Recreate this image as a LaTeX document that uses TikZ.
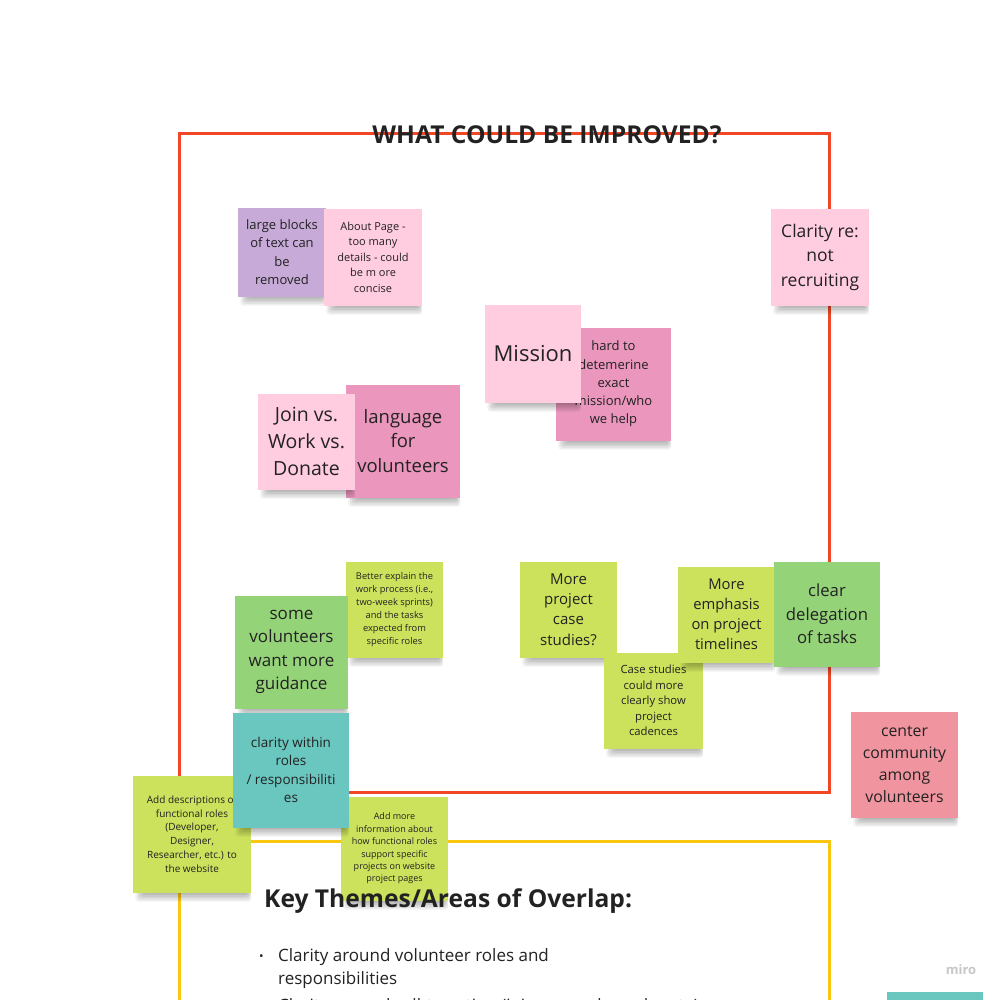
\documentclass[tikz,border=0pt]{standalone}
\usepackage{fontspec}
\setmainfont{Open Sans}
\definecolor{frred}{HTML}{F24726}
\definecolor{fryel}{HTML}{FAC710}
\definecolor{spurple}{HTML}{C8AAD8}
\definecolor{slpink}{HTML}{FFCCE0}
\definecolor{sdpink}{HTML}{EA96BD}
\definecolor{slime}{HTML}{CCE15C}
\definecolor{sgreen}{HTML}{95D378}
\definecolor{steal}{HTML}{6AC7C0}
\definecolor{ssalmon}{HTML}{F0959F}
\definecolor{txt}{HTML}{222222}
\tikzset{
  sticky/.style={rectangle, inner sep=0pt, align=center, text=txt},
  frameline/.style={line width=3pt},
  titletext/.style={font=\fontsize{24.6}{30}\selectfont\bfseries, text=txt, inner sep=0pt},
  bodytext/.style={font=\fontsize{17}{23}\selectfont, text=txt, inner sep=0pt, anchor=base west}
}
% name, x1, y1, x2, y2, colour, size, leading, text
\newcommand\stk[9]{%
  \foreach \i in {1,...,6}{\fill[black,opacity=0.055,rounded corners=3pt] ({#2+12-\i*1.6},{#5-8}) rectangle ({#4-4+\i*0.7},{#5+1+\i*1.6});}
  \node[sticky, fill=#6, minimum width={#4-#2}, minimum height={#5-#3}, font=\fontsize{#7}{#8}\selectfont] (#1) at ({(#2+#4)/2},{(#3+#5)/2+1.5}) {#9};
}
\begin{document}
\begin{tikzpicture}[x=1pt,y=-1pt]
\useasboundingbox (0,0) rectangle (1000,999);
\clip (0,0) rectangle (1000,999);
\fill[white] (0,0) rectangle (1000,999);
% frames
\draw[frameline, frred] (179,133) rectangle (829,792);
\draw[frameline, fryel] (179,841) -- (829,841) -- (829,1100);
\draw[frameline, fryel] (179,841) -- (179,1100);
% stickies
\stk{s1}{238}{206}{326}{295}{spurple}{13}{18.5}{large blocks\\of text can\\be\\removed}
\stk{s2}{324}{207}{422}{304}{slpink}{11}{15.5}{About Page -\\too many\\details - could\\be m ore\\concise}
\stk{s5}{556}{326}{671}{439}{sdpink}{13}{18.3}{hard to\\detemerine\\exact\\mission/who\\we help}
\stk{s4}{485}{303}{581}{401}{slpink}{22}{28}{Mission}
\stk{s7}{346}{383}{460}{496}{sdpink}{18.5}{24.5}{language\\for\\volunteers}
\stk{s6}{258}{392}{355}{488}{slpink}{19.5}{27}{Join vs.\\Work vs.\\Donate}
\stk{s9}{346}{560}{443}{656}{slime}{9.3}{13}{Better explain the\\work process (i.e.,\\two-week sprints)\\and the tasks\\expected from\\specific roles}
\stk{s8}{235}{594}{348}{707}{sgreen}{17}{23.5}{some\\volunteers\\want more\\guidance}
\stk{s11}{133}{774}{251}{891}{slime}{10}{13.8}{Add descriptions of\\functional roles\\(Developer,\\Designer,\\Researcher, etc.) to\\the website}
\stk{s12}{341}{795}{448}{899}{slime}{9}{12.4}{Add more\\information about\\how functional roles\\support specific\\projects on website\\project pages}
\stk{s10}{233}{711}{349}{826}{steal}{13.5}{18.5}{clarity within\\roles\\/ responsibiliti\\es}
\stk{s13}{520}{560}{617}{656}{slime}{15}{20.3}{More\\project\\case\\studies?}
\stk{s14}{604}{651}{703}{747}{slime}{11.3}{15.5}{Case studies\\could more\\clearly show\\project\\cadences}
\stk{s15}{678}{565}{775}{661}{slime}{14.8}{20}{More\\emphasis\\on project\\timelines}
\stk{s16}{774}{560}{880}{665}{sgreen}{16.7}{23.5}{clear\\delegation\\of tasks}
\stk{s17}{851}{710}{958}{816}{ssalmon}{15.8}{22}{center\\community\\among\\volunteers}
\stk{s3}{771}{207}{869}{304}{slpink}{17.5}{24.5}{Clarity re:\\not\\recruiting}
% key themes text (over the stickies)
\node[titletext, anchor=west] (keyt) at (264,901) {Key Themes/Areas of Overlap:};
\node[bodytext, font=\fontsize{12}{14}\selectfont] (b1) at (259,960) {•};
\node[bodytext] (l1) at (278,961) {Clarity around volunteer roles and};
\node[bodytext] (l2) at (278,984) {responsibilities};
\node[bodytext, font=\fontsize{12}{14}\selectfont] (b2) at (259,1008) {•};
\node[bodytext] (l3) at (278,1011) {Clarity around call-to-action (join vs. work vs. donate)};
% title over the red line
\node[titletext] (title) at (547,135) {WHAT COULD BE IMPROVED?};
% watermark
\node[font=\fontsize{13}{15}\selectfont\bfseries, text=black!22, inner sep=0pt] (miro) at (961,970) {miro};
\fill[steal] (887,992) rectangle (983,1005);
\end{tikzpicture}
\end{document}
